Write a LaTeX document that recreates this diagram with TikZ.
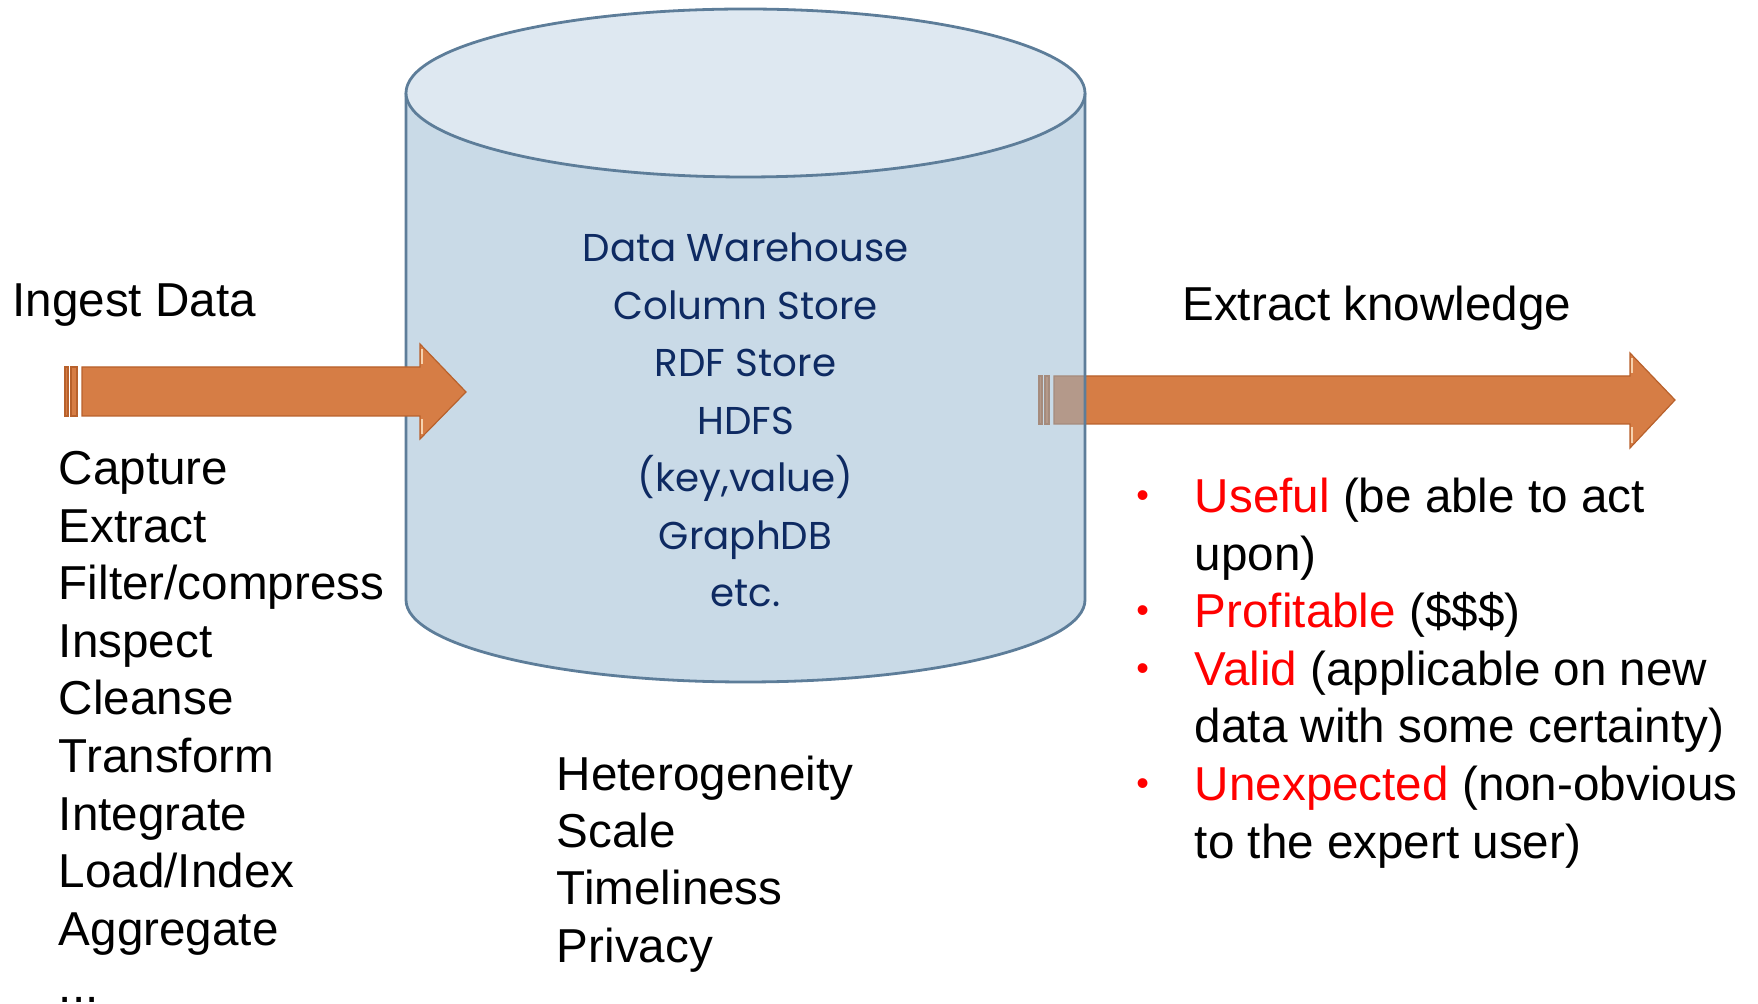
\documentclass[tikz,border=0pt]{standalone}
\usepackage{fontspec}
\setmainfont{Liberation Sans}
\newfontfamily\storefont{Poppins}
\definecolor{arroworange}{HTML}{D67D45}
\definecolor{arrowedge}{HTML}{B8612C}
\definecolor{arrowlight}{HTML}{F6D2AE}
\definecolor{cylbody}{HTML}{93B5CF}
\definecolor{cyltop}{HTML}{DEE8F1}
\definecolor{cyledge}{HTML}{5D7D99}
\definecolor{storeblue}{HTML}{0E2A62}
\definecolor{goodred}{HTML}{FF0000}

\begin{document}
\begin{tikzpicture}[x=0.5pt,y=-0.5pt,
        txt/.style={anchor=base west,inner sep=0pt,font=\fontsize{23.8}{28.8}\selectfont},
        store/.style={anchor=base,inner sep=0pt,text=storeblue,
                      font=\storefont\fontsize{19.4}{24}\selectfont},
        fat/.style={fill=arroworange,draw=arrowedge,line width=0.6pt},
        shine/.style={draw=arrowlight,line width=1.2pt}]
      \useasboundingbox (0,0) rectangle (1758,1004);
      % outgoing arrow, sits behind the store
      \fill[fat] (1039,376) rectangle (1042,424);
      \fill[fat] (1045,376) rectangle (1049,424);
      \path[fat] (1054,376) -- (1630,376) -- (1630,353) -- (1675,400)
                 -- (1630,448) -- (1630,424) -- (1054,424) -- cycle;
      \draw[shine] (1632,358) -- (1632,373) (1632,427) -- (1632,443);
      % the store
      \fill[cylbody,opacity=0.5] (406,93) -- (406,600)
            arc[start angle=180,end angle=0,x radius=339.5,y radius=82] -- (1085,93) -- cycle;
      \draw[cyledge,line width=1.4pt] (406,93) -- (406,600)
            arc[start angle=180,end angle=0,x radius=339.5,y radius=82] -- (1085,93);
      \draw[cyledge,line width=1.4pt,fill=cyltop] (745.5,93) ellipse[x radius=339.5,y radius=84];
      \foreach \t [count=\i] in {Data Warehouse,Column Store,RDF Store,HDFS,{(key,value)},GraphDB,etc.}
        \node[store] (store\i) at (745.5,{262+(\i-1)*57.5}) {\t};
      % incoming arrow, in front of the store
      \fill[fat] (65,367) rectangle (68,416);
      \fill[fat] (71,367) rectangle (77,416);
      \path[fat] (82,367) -- (420,367) -- (420,344) -- (466,392)
                 -- (420,439) -- (420,416) -- (82,416) -- cycle;
      \draw[shine] (422,349) -- (422,364) (422,419) -- (422,434);
      % labels
      \node[txt] (ingest) at (12,317) {Ingest Data};
      \node[txt] (extract) at (1182,321) {Extract knowledge};
      \foreach \t [count=\i] in {Capture,Extract,Filter/compress,Inspect,Cleanse,
                                 Transform,Integrate,Load/Index,Aggregate}
        \node[txt] (step\i) at (58.5,{484.5+(\i-1)*57.6}) {\t};
      \node[txt] (more) at (58.5,1002.9) {.{}.{}.};
      \foreach \t [count=\i] in {Heterogeneity,Scale,Timeliness,Privacy}
        \node[txt] (issue\i) at (556.5,{790.6+(\i-1)*57.2}) {\t};
      \foreach \t [count=\i] in {{\textcolor{goodred}{Useful} (be able to act},upon),
                                 {\textcolor{goodred}{Profitable} (\$\$\$)},
                                 {\textcolor{goodred}{Valid} (applicable on new},
                                 data with some certainty),
                                 {\textcolor{goodred}{Unexpected} (non-obvious},
                                 to the expert user)}
        \node[txt] (goal\i) at (1194.5,{512.6+(\i-1)*57.6}) {\t};
      \foreach \j in {1,3,4,6}
        \node[txt,text=goodred,font=\fontsize{18}{22}\selectfont] (dot\j) at (1136,{507.6+(\j-1)*57.6}) {\textbullet};
    \end{tikzpicture}
\end{document}
